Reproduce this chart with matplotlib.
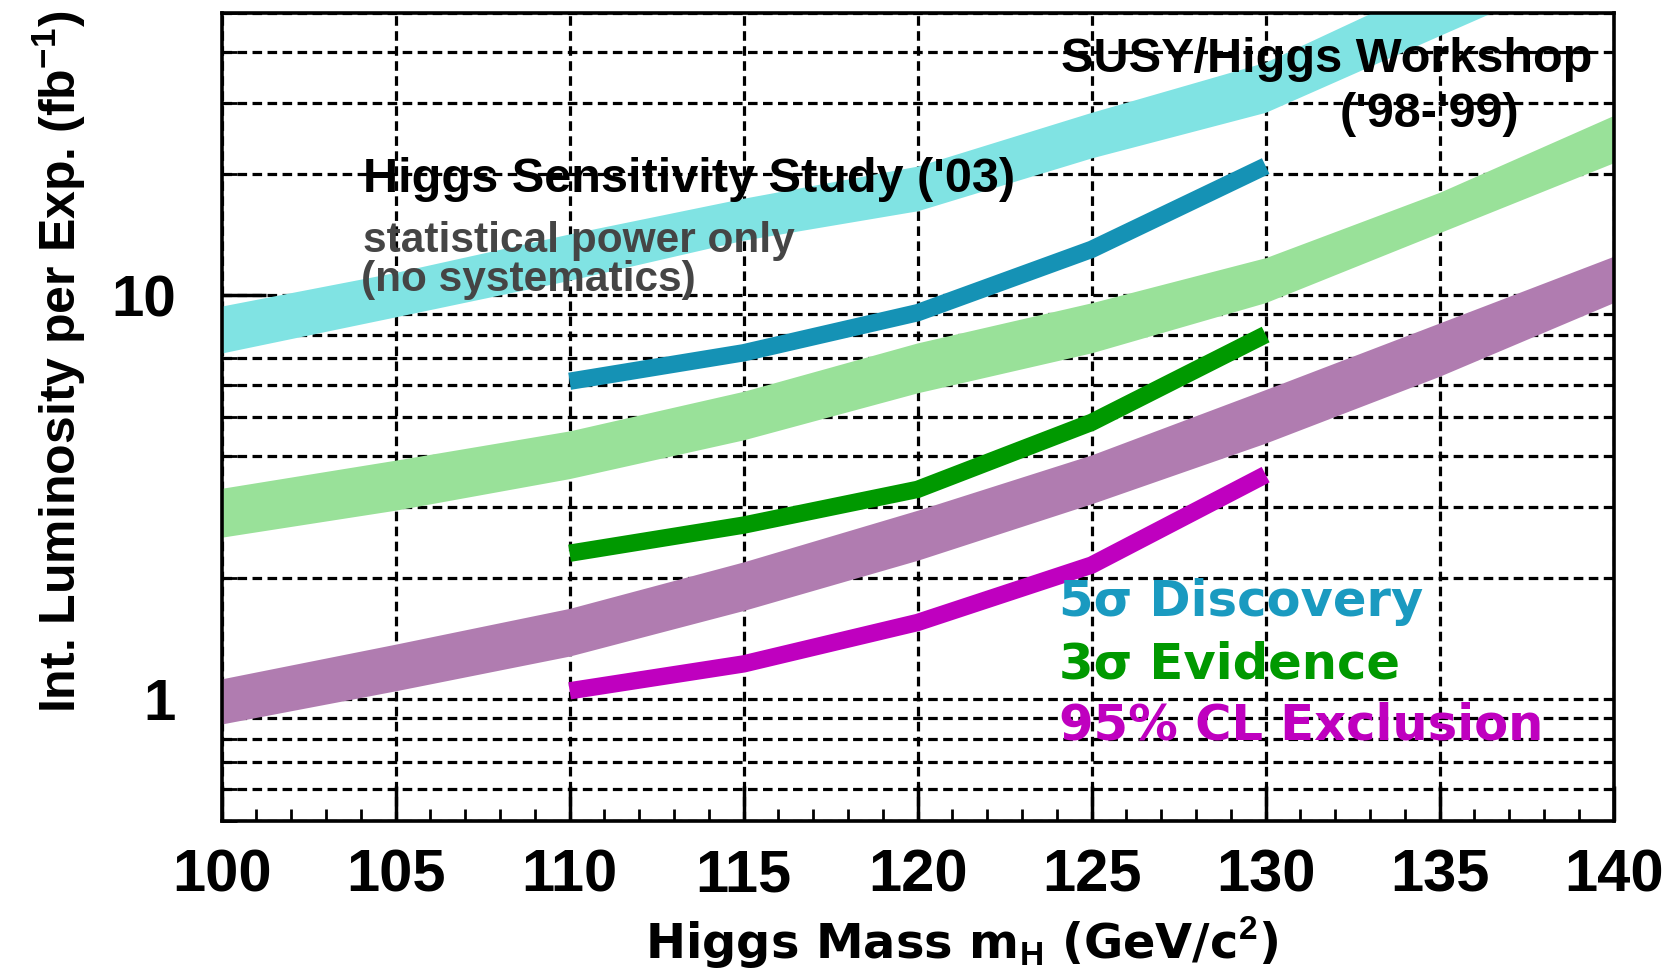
import matplotlib
matplotlib.use("Agg")
import matplotlib.pyplot as plt
from matplotlib.ticker import MultipleLocator, LogLocator, NullFormatter, FuncFormatter

plt.rcParams['font.family'] = ['Liberation Sans', 'DejaVu Sans']
plt.rcParams['font.weight'] = 'bold'
plt.rcParams['mathtext.fontset'] = 'custom'
plt.rcParams['mathtext.rm'] = 'Liberation Sans:bold'
plt.rcParams['mathtext.it'] = 'Liberation Sans:bold'
plt.rcParams['mathtext.bf'] = 'Liberation Sans:bold'

# SUSY/Higgs Workshop ('98-'99): lower / upper edge of each band (fb^-1)
mass_wk = [100, 105, 110, 115, 120, 125, 130, 135, 140]
disc_wk_lo = [7.2, 8.85, 10.9, 13.7, 16.2, 21.9, 28.4, 44.0, 68.0]
disc_wk_hi = [9.41, 11.4, 14.2, 17.4, 20.9, 28.4, 37.8, 60.0, 90.0]
evid_wk_lo = [2.52, 2.94, 3.52, 4.39, 5.74, 7.21, 9.6, 14.3, 21.3]
evid_wk_hi = [3.33, 3.91, 4.62, 5.79, 7.63, 9.59, 12.4, 18.0, 27.9]
excl_wk_lo = [0.869, 1.05, 1.28, 1.66, 2.21, 3.05, 4.31, 6.31, 9.6]
excl_wk_hi = [1.124, 1.37, 1.68, 2.19, 2.94, 4.03, 5.85, 8.55, 12.5]

# Higgs Sensitivity Study ('03), statistical power only
mass_03 = [110, 115, 120, 125, 130]
disc_03 = [6.13, 7.21, 9.06, 13.0, 20.9]
evid_03 = [2.30, 2.70, 3.31, 4.85, 8.0]
excl_03 = [1.05, 1.224, 1.55, 2.15, 3.6]

c_disc_wk, c_evid_wk, c_excl_wk = '#80e3e3', '#99e199', '#b07cb0'
c_disc, c_evid, c_excl = '#1592b5', '#009900', '#bf00bf'
wide = ['DejaVu Sans']

fig = plt.figure(figsize=(16.71, 9.71), dpi=100)
ax = fig.add_axes([0.1326, 0.1545, 0.8331, 0.8321])
ax.set_yscale('log')
ax.set_xlim(100, 140)
ax.set_ylim(0.5, 50)

# workshop bands
ax.fill_between(mass_wk, disc_wk_lo, disc_wk_hi, color=c_disc_wk, lw=0, zorder=1)
ax.fill_between(mass_wk, evid_wk_lo, evid_wk_hi, color=c_evid_wk, lw=0, zorder=1)
ax.fill_between(mass_wk, excl_wk_lo, excl_wk_hi, color=c_excl_wk, lw=0, zorder=1)

# 2003 study curves
for ys, c in [(disc_03, c_disc), (evid_03, c_evid), (excl_03, c_excl)]:
    ax.plot(mass_03, ys, color=c, lw=12.5, solid_capstyle='butt',
            solid_joinstyle='miter', zorder=2)

# axes, ticks, grid
ax.xaxis.set_major_locator(MultipleLocator(5))
ax.xaxis.set_minor_locator(MultipleLocator(1))
ax.yaxis.set_major_locator(LogLocator(base=10))
ax.yaxis.set_minor_locator(LogLocator(base=10, subs=range(2, 10)))
ax.yaxis.set_major_formatter(FuncFormatter(lambda v, _: f"{v:g}"))
ax.yaxis.set_minor_formatter(NullFormatter())

ax.tick_params(axis='x', which='major', direction='in', length=25, width=2.5,
               labelsize=43, pad=20)
ax.tick_params(axis='x', which='minor', direction='in', length=8.6, width=2)
ax.tick_params(axis='y', which='major', direction='in', length=32, width=2.5,
               labelsize=42, pad=33)
ax.tick_params(axis='y', which='minor', direction='in', length=11, width=2)

grid_style = dict(color='black', lw=2.3, linestyle=(0, (3, 1.7)))
ax.grid(True, which='major', axis='x', **grid_style)
ax.grid(True, which='both', axis='y', **grid_style)
ax.set_axisbelow(True)
for sp in ax.spines.values():
    sp.set_linewidth(2.6)

# annotations
ax.text(104.06, 18.0, "Higgs Sensitivity Study ('03)", fontsize=35,
        color='black', va='baseline', ha='left')
ax.text(104.06, 12.8, "statistical power only", fontsize=30.5,
        color='#454545', va='baseline', ha='left')
ax.text(104.0, 10.27, "(no systematics)", fontsize=30.5,
        color='#454545', va='baseline', ha='left')
ax.text(139.4, 35.7, "SUSY/Higgs Workshop", fontsize=35,
        color='black', va='baseline', ha='right')
ax.text(137.3, 26.1, "('98-'99)", fontsize=35,
        color='black', va='baseline', ha='right')

ax.text(124.07, 1.61, "5\u03c3 Discovery", fontsize=35.7, color='#1a9ac0',
        va='baseline', ha='left', family=wide)
ax.text(124.07, 1.124, "3\u03c3 Evidence", fontsize=35.7, color=c_evid,
        va='baseline', ha='left', family=wide)
ax.text(124.07, 0.797, "95% CL Exclusion", fontsize=35.7, color=c_excl,
        va='baseline', ha='left', family=wide)

# axis titles
fig.text(962 / 1671, 1 - 958 / 971, r"Higgs Mass m$_\mathrm{H}$ (GeV/c$^\mathrm{2}$)",
         fontsize=34.5, ha='center', va='baseline', family=wide)
fig.text(59 / 1671, 1 - 362 / 971, r"Int. Luminosity per Exp. (fb$^\mathrm{-1}$)",
         fontsize=36, rotation=90, ha='center', va='center')

fig.savefig("out.png", dpi=100)
